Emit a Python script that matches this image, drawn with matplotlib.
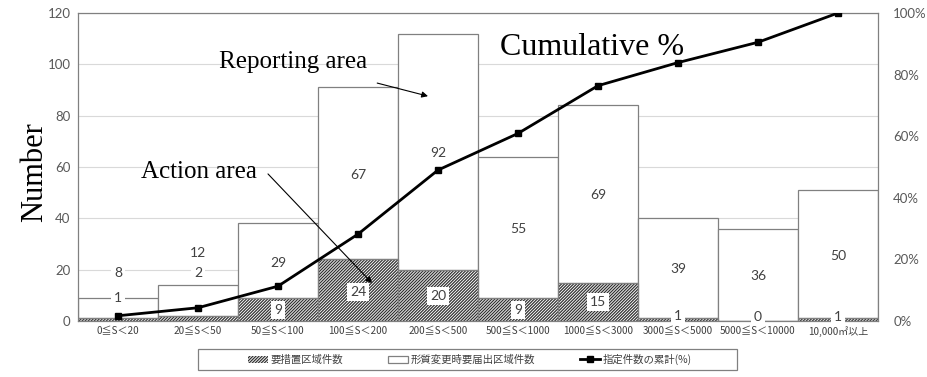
import matplotlib
matplotlib.use("Agg")
import matplotlib.pyplot as plt
from matplotlib.patches import Patch, Rectangle
from matplotlib.lines import Line2D

# ---- data ----
categories = ["0≦S＜20", "20≦S＜50", "50≦S＜100", "100≦S＜200", "200≦S＜500",
              "500≦S＜1000", "1000≦S＜3000", "3000≦S＜5000", "5000≦S＜10000", "10,000㎡以上"]
action_counts = [1, 2, 9, 24, 20, 9, 15, 1, 0, 1]
report_counts = [8, 12, 29, 67, 92, 55, 69, 39, 36, 50]
cumulative_pct = [1.7, 4.3, 11.3, 28.2, 49.0, 60.9, 76.4, 83.9, 90.5, 100.0]
left_ticks = [0, 20, 40, 60, 80, 100, 120]
right_ticks = [0, 20, 40, 60, 80, 100]
legend_labels = ["要措置区域件数", "形質変更時要届出区域件数", "指定件数の累計(%)"]

# label heights (data units) as placed in the original
report_label_y = [18.7, 26.5, 22.6, 56.9, 65.4, 35.8, 49.1, 20.3, 17.5, 25.3]
action_label_y = [9.0, 18.7, 4.3, 11.3, 9.7, 4.3, 7.4, 2.0, 1.6, 1.6]

cjk = ["Noto Sans CJK JP", "DejaVu Sans"]
num_font = ["Lato", "DejaVu Sans"]
serif = ["Liberation Serif", "DejaVu Serif"]

plt.rcParams["hatch.linewidth"] = 0.9
HATCH = "///////////"

fig = plt.figure(figsize=(9.28, 3.77), dpi=100)
ax = fig.add_axes([78 / 928, 1 - 321 / 377, 800 / 928, 308 / 377])

x = list(range(len(categories)))
edge = "#808080"
ax.bar(x, action_counts, width=1.0, color="white", edgecolor="#333333",
       hatch=HATCH, linewidth=0, zorder=2)
ax.bar(x, action_counts, width=1.0, color="none", edgecolor=edge, linewidth=0.9, zorder=2.1)
ax.bar(x, report_counts, width=1.0, bottom=action_counts, color="white",
       edgecolor=edge, linewidth=0.9, zorder=2)

for i in x:
    ax.text(i, report_label_y[i], str(report_counts[i]), ha="center", va="center",
            fontsize=10, color="#404040", family=num_font, zorder=4,
            bbox=dict(facecolor="white", edgecolor="none", pad=2.0))
    ax.text(i, action_label_y[i], str(action_counts[i]), ha="center", va="center",
            fontsize=10, color="#404040", family=num_font, zorder=4,
            bbox=dict(facecolor="white", edgecolor="none", pad=2.0))

ax.set_xlim(-0.5, len(categories) - 0.5)
ax.set_ylim(0, 120)
ax.set_yticks(left_ticks)
ax.set_yticklabels([str(t) for t in left_ticks], family=num_font, fontsize=9.5, color="#595959")
ax.set_xticks(x)
ax.set_xticklabels(categories, family=cjk, fontsize=7.2, color="#404040")
ax.tick_params(axis="both", length=0)
ax.tick_params(axis="y", pad=5.5)
ax.tick_params(axis="x", pad=3.5)
ax.yaxis.grid(True, color="#d9d9d9", linewidth=0.8, zorder=0)
ax.set_axisbelow(True)
for s in ax.spines.values():
    s.set_color(edge)
    s.set_linewidth(0.9)

ax2 = ax.twinx()
ax2.plot(x, cumulative_pct, color="black", linewidth=2, marker="s", markersize=4.5,
         zorder=5)
ax2.set_ylim(0, 100)
ax2.set_yticks(right_ticks)
ax2.set_yticklabels([f"{t}%" for t in right_ticks], family=num_font, fontsize=9.5, color="#595959")
ax2.tick_params(axis="y", length=0, pad=11)
for s in ax2.spines.values():
    s.set_visible(False)

# annotations
ax.annotate("", xy=(3.875, 87.6), xytext=(3.24, 92.7),
            arrowprops=dict(arrowstyle="-|>", color="black", lw=0.8, mutation_scale=9,
                            shrinkA=0, shrinkB=0), zorder=6)
ax.text(2.19, 100.9, "Reporting area", ha="center", va="center", family=serif,
        fontsize=18, color="black", zorder=6)
ax.annotate("", xy=(3.175, 14.8), xytext=(1.875, 57.3),
            arrowprops=dict(arrowstyle="-|>", color="black", lw=0.8, mutation_scale=9,
                            shrinkA=0, shrinkB=0), zorder=6)
ax.text(1.01, 58, "Action area", ha="center", va="center", family=serif,
        fontsize=18, color="black", zorder=6)
ax.text(5.925, 106.7, "Cumulative %", ha="center", va="center", family=serif,
        fontsize=23, color="black", zorder=6)

fig.text(35 / 928, 1 - 172 / 377, "Number", rotation=90, ha="center", va="center",
         family=serif, fontsize=22, color="black")

# legend box
fig.patches.append(Rectangle((198 / 928, 1 - 370 / 377), 539 / 928, 21 / 377,
                             transform=fig.transFigure, facecolor="white",
                             edgecolor="#808080", linewidth=0.9, zorder=0))
handles = [
    Patch(facecolor="white", edgecolor="#333333", hatch=HATCH, linewidth=0),
    Patch(facecolor="white", edgecolor=edge, linewidth=0.9),
    Line2D([0], [0], color="black", lw=2, marker="s", markersize=4),
]
leg = fig.legend(handles, legend_labels, loc="center", ncol=3,
                 bbox_to_anchor=(470 / 928, 1 - 359.5 / 377),
                 prop={"family": cjk, "size": 7.5}, frameon=False,
                 handlelength=1.9, handleheight=0.6,
                 columnspacing=4.3, borderpad=0.2, handletextpad=0.25)
for t in leg.get_texts():
    t.set_color("#404040")

fig.savefig("out.png", dpi=100)
